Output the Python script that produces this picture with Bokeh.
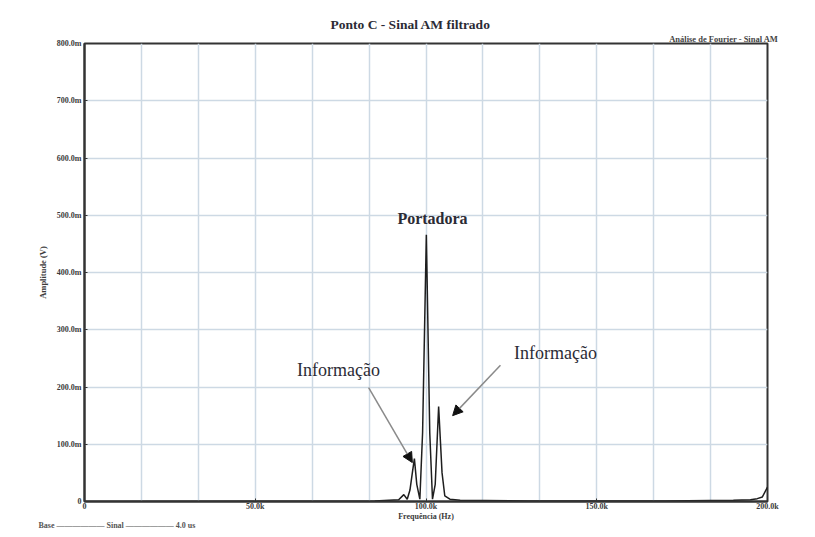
from bokeh.plotting import figure
from bokeh.models import FixedTicker, Grid, Label, Arrow, NormalHead, Title
from bokeh.embed import file_html
from bokeh.resources import INLINE

# ---- data ----
freq_hz = [0, 60000, 85000, 92000, 93500, 94500, 95300, 96000, 96600, 97300, 98200,
           99000, 100100, 101100, 101900, 102700, 103700, 104700, 105500, 107000,
           110000, 130000, 170000, 190000, 195000, 197000, 198500, 200000]
amp_v = [0, 0.0005, 0.001, 0.003, 0.012, 0.004, 0.020, 0.050, 0.075, 0.030, 0.004,
         0.120, 0.466, 0.120, 0.004, 0.030, 0.166, 0.050, 0.010, 0.004,
         0.002, 0.001, 0.001, 0.002, 0.003, 0.005, 0.008, 0.025]
x_ticks = [0, 50000, 100000, 150000, 200000]
x_tick_labels = ["0", "50.0k", "100.0k", "150.0k", "200.0k"]
y_ticks = [0, 0.1, 0.2, 0.3, 0.4, 0.5, 0.6, 0.7, 0.8]
y_tick_labels = ["0", "100.0m", "200.0m", "300.0m", "400.0m", "500.0m", "600.0m", "700.0m", "800.0m"]
x_grid = [i * 200000 / 12 for i in range(1, 12)]

title = "Ponto C - Sinal AM filtrado"
corner_note = "Análise de Fourier - Sinal AM"
legend_note = "Base —————— Sinal —————— 4.0 us"
serif = "Liberation Serif"
ink = "#2b2b35"

p = figure(width=807, height=529, x_range=(0, 200000), y_range=(0, 0.8),
           output_backend="svg", toolbar_location=None,
           min_border_left=84, min_border_right=40, min_border_top=43, min_border_bottom=28)
p.background_fill_color = "white"
p.border_fill_color = "white"
p.outline_line_color = "#333333"
p.outline_line_width = 2

p.title.text = title
p.title.align = "left"
p.title.text_font = serif
p.title.text_font_size = "13.5px"
p.title.text_font_style = "bold"
p.title.text_color = ink
p.title.offset = 246
p.title.standoff = 0

p.add_layout(Title(text=corner_note, align="right", offset=-11, standoff=0,
                   text_font=serif, text_font_size="8.5px", text_font_style="bold",
                   text_color="#444444"), "above")
p.add_layout(Title(text=legend_note, align="left", offset=-46, standoff=-6,
                   vertical_align="top",
                   text_font=serif, text_font_size="8px", text_font_style="bold",
                   text_color="#555555"), "below")

p.xgrid.visible = False
p.ygrid.grid_line_color = "#cdd9e4"
p.ygrid.grid_line_width = 1.5
p.add_layout(Grid(dimension=0, ticker=FixedTicker(ticks=x_grid),
                  grid_line_color="#cdd9e4", grid_line_width=1.5))

p.xaxis.ticker = FixedTicker(ticks=x_ticks)
p.xaxis.major_label_overrides = {t: l for t, l in zip(x_ticks, x_tick_labels)}
p.yaxis.ticker = FixedTicker(ticks=y_ticks)
p.yaxis.major_label_overrides = {t: l for t, l in zip(y_ticks, y_tick_labels)}
for ax in (p.xaxis[0], p.yaxis[0]):
    ax.axis_line_color = "#333333"
    ax.axis_line_width = 2
    ax.major_tick_line_color = "#333333"
    ax.major_tick_in = 3
    ax.major_tick_out = 0
    ax.minor_tick_line_color = None
    ax.major_label_text_font = serif
    ax.major_label_text_font_size = "8px"
    ax.major_label_text_font_style = "bold"
    ax.major_label_text_color = "#3a3a3a"
    ax.axis_label_text_font = serif
    ax.axis_label_text_font_size = "8px"
    ax.axis_label_text_font_style = "bold"
    ax.axis_label_text_color = "#3a3a3a"
p.xaxis.axis_label = "Frequência (Hz)"
p.xaxis.axis_label_standoff = -2
p.xaxis.major_label_standoff = 0
p.yaxis.axis_label = "Amplitude (V)"
p.yaxis.axis_label_text_font_size = "8.5px"
p.yaxis.axis_label_standoff = 6
p.yaxis.major_label_standoff = 3

p.line(freq_hz, amp_v, line_color="#1e1e1e", line_width=1.5)

# annotations
peak_i = amp_v.index(max(amp_v))
p.add_layout(Label(x=freq_hz[peak_i] + 1800, y=0.494, text="Portadora", text_font=serif,
                   text_font_size="16px", text_font_style="bold", text_align="center",
                   text_baseline="middle", text_color=ink))
p.add_layout(Label(x=74400, y=0.229, text="Informação", text_font=serif,
                   text_font_size="18px", text_align="center", text_baseline="middle",
                   text_color=ink))
p.add_layout(Label(x=137900, y=0.260, text="Informação", text_font=serif,
                   text_font_size="18px", text_align="center", text_baseline="middle",
                   text_color=ink))
p.add_layout(Arrow(x_start=83200, y_start=0.199, x_end=96000, y_end=0.068,
                   line_color="#8a8a8a", line_width=1.5,
                   end=NormalHead(size=10, fill_color="#111111", line_color="#111111")))
p.add_layout(Arrow(x_start=121800, y_start=0.238, x_end=107800, y_end=0.150,
                   line_color="#8a8a8a", line_width=1.5,
                   end=NormalHead(size=10, fill_color="#111111", line_color="#111111")))

open("out.html", "w").write(file_html(p, INLINE))
